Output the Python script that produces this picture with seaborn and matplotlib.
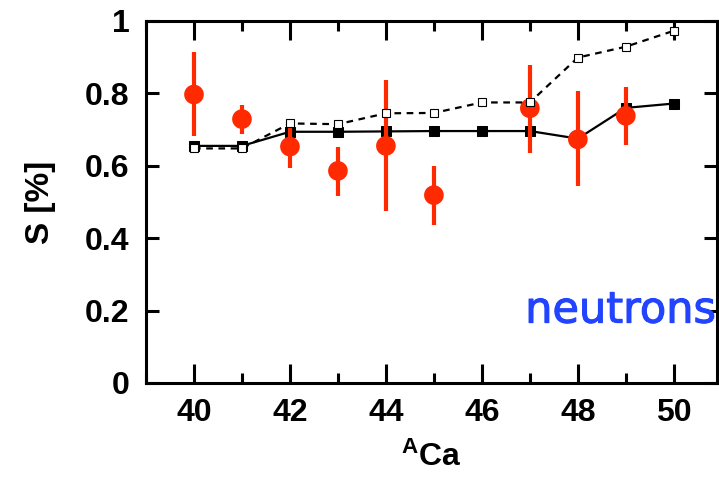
import numpy as np
import pandas as pd
import matplotlib
matplotlib.use("Agg")
import matplotlib.pyplot as plt
import matplotlib.patheffects as pe
import seaborn as sns
from matplotlib.ticker import MultipleLocator

# ---- data ----
A_theory = [40, 41, 42, 43, 44, 45, 46, 47, 48, 49, 50]
S_solid = [0.655, 0.655, 0.694, 0.694, 0.695, 0.696, 0.696, 0.696, 0.675, 0.760, 0.772]
S_dashed = [0.648, 0.648, 0.717, 0.715, 0.745, 0.746, 0.775, 0.775, 0.899, 0.929, 0.973]

A_exp = [40, 41, 42, 43, 44, 45, 47, 48, 49]
S_exp = [0.797, 0.729, 0.653, 0.586, 0.655, 0.519, 0.759, 0.673, 0.738]
S_err_lo = [0.115, 0.042, 0.060, 0.069, 0.180, 0.083, 0.123, 0.129, 0.081]
S_err_hi = [0.116, 0.039, 0.060, 0.067, 0.181, 0.081, 0.119, 0.134, 0.080]

x_ticks = [40, 42, 44, 46, 48, 50]
y_ticks = [0, 0.2, 0.4, 0.6, 0.8, 1]
y_ticklabels = ["0", "0.2", "0.4", "0.6", "0.8", "1"]

sns.set_style("white")
plt.rcParams["font.family"] = ["Liberation Sans", "DejaVu Sans"]
plt.rcParams["mathtext.fontset"] = "custom"
plt.rcParams["mathtext.bf"] = "Liberation Sans:bold"
plt.rcParams["mathtext.rm"] = "Liberation Sans"
plt.rcParams["text.color"] = "black"
plt.rcParams["axes.labelcolor"] = "black"
plt.rcParams["xtick.color"] = "black"
plt.rcParams["ytick.color"] = "black"

fig = plt.figure(figsize=(7.19, 4.79), dpi=100)
ax = fig.add_axes([146/719, 1-383/479, (717-146)/719, (383-21)/479])

df_th = pd.DataFrame({"A": A_theory, "solid": S_solid, "dashed": S_dashed})
df_exp = pd.DataFrame({"A": A_exp, "S": S_exp, "lo": S_err_lo, "hi": S_err_hi})

red = "#ff2a00"

# solid line with filled squares
sns.lineplot(data=df_th, x="A", y="solid", ax=ax, color="black", lw=1.6,
             marker="s", markersize=7, markeredgecolor="black",
             markerfacecolor="black", zorder=2)

# experimental points with error bars
ax.errorbar(df_exp["A"], df_exp["S"], yerr=[df_exp["lo"], df_exp["hi"]],
            fmt="none", ecolor=red, elinewidth=3.0, capsize=0, zorder=3)
sns.scatterplot(data=df_exp, x="A", y="S", ax=ax, color=red, s=200,
                edgecolor="none", zorder=4)

# dashed line with open squares
sns.lineplot(data=df_th, x="A", y="dashed", ax=ax, color="black", lw=1.6,
             linestyle=(0, (3, 2.5)), marker="s", markersize=6,
             markeredgecolor="black", markerfacecolor="white",
             markeredgewidth=0.8, zorder=5)

ax.set_xlim(39.0, 50.9)
ax.set_ylim(0, 1)
ax.set_xticks(x_ticks)
ax.set_xticklabels([str(t) for t in x_ticks])
ax.xaxis.set_minor_locator(MultipleLocator(1))
ax.set_yticks(y_ticks)
ax.set_yticklabels(y_ticklabels)

for s in ax.spines.values():
    s.set_linewidth(2.2)
    s.set_color("black")

ax.tick_params(axis="x", which="major", direction="in", length=14, width=2.2,
               top=True, bottom=True, pad=11, labelsize=23)
ax.tick_params(axis="x", which="minor", direction="in", length=7, width=2.2,
               top=True, bottom=True)
ax.tick_params(axis="y", which="major", direction="in", length=9.5, width=2.2,
               left=True, right=True, pad=12, labelsize=23)
for lab in ax.get_xticklabels() + ax.get_yticklabels():
    lab.set_fontweight("bold")

ax.set_xlabel(r"$\mathbf{{}^{A}Ca}$", fontsize=23, labelpad=10)
ax.set_ylabel("S [%]", fontsize=24, fontweight="bold", labelpad=21)

ax.text(50.87, 0.2, "neutrons", color="#2244ff", fontsize=31,
        ha="right", va="center", family=["DejaVu Sans"],
        path_effects=[pe.withStroke(linewidth=0.8, foreground="#2244ff")])

fig.savefig("out.png", dpi=100)
